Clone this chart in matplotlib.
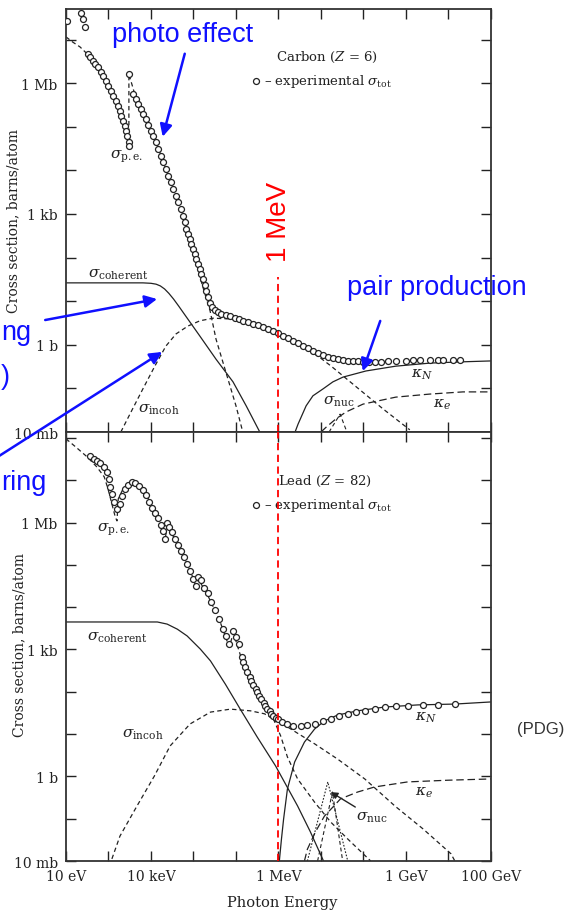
import matplotlib.pyplot as plt
import numpy as np

plt.rcParams['font.family'] = 'DejaVu Serif'
plt.rcParams['mathtext.fontset'] = 'dejavuserif'

# -------------------------------------------------------------------------- #
# DATA : log10(E / eV) and log10(sigma / barn)
# -------------------------------------------------------------------------- #

# Carbon (Z = 6)
carbon_exp_logE = [1.02, 1.35, 1.40, 1.45,
                   1.52, 1.56, 1.64, 1.68, 1.75, 1.82, 1.87, 1.94, 1.99, 2.06, 2.11,
                   2.18, 2.22, 2.27, 2.29, 2.34, 2.39, 2.41, 2.44, 2.48, 2.48,
                   2.48, 2.58, 2.65, 2.69, 2.76, 2.81, 2.88, 2.93, 3.00, 3.05,
                   3.12, 3.16, 3.24, 3.28, 3.35, 3.40, 3.47, 3.52, 3.59, 3.64,
                   3.71, 3.75, 3.80, 3.82, 3.87, 3.92, 3.94, 3.99, 4.04, 4.06,
                   4.11, 4.15, 4.18, 4.22, 4.27, 4.29, 4.34, 4.39, 4.44, 4.51,
                   4.58, 4.65, 4.76, 4.86, 4.98, 5.07, 5.16, 5.28, 5.40, 5.52,
                   5.64, 5.75, 5.87, 5.99, 6.11, 6.22, 6.34, 6.46, 6.58, 6.69,
                   6.81, 6.93, 7.05, 7.16, 7.28, 7.40, 7.52, 7.64, 7.75, 7.87,
                   7.99, 8.13, 8.27, 8.41, 8.58, 8.76, 9.00, 9.16, 9.33, 9.56,
                   9.75, 9.87, 10.11, 10.27]
carbon_exp_logS = [7.43, 7.61, 7.47, 7.29,
                   6.67, 6.60, 6.51, 6.44, 6.37, 6.26, 6.17, 6.05, 5.94, 5.82, 5.71,
                   5.59, 5.48, 5.36, 5.25, 5.13, 5.02, 4.90, 4.79, 4.65, 4.56,
                   6.21, 5.75, 5.64, 5.52, 5.41, 5.29, 5.18, 5.04, 4.90, 4.79,
                   4.65, 4.49, 4.33, 4.19, 4.03, 3.87, 3.73, 3.57, 3.41, 3.28,
                   3.11, 2.95, 2.82, 2.66, 2.54, 2.43, 2.31, 2.20, 2.08, 1.97,
                   1.85, 1.74, 1.62, 1.51, 1.37, 1.23, 1.10, 0.96, 0.87, 0.80,
                   0.75, 0.71, 0.68, 0.66, 0.61, 0.59, 0.55, 0.52, 0.48, 0.45,
                   0.41, 0.36, 0.32, 0.27, 0.20, 0.16, 0.09, 0.04, -0.03, -0.07,
                   -0.14, -0.19, -0.23, -0.28, -0.30, -0.33, -0.35, -0.37, -0.37, -0.37,
                   -0.39, -0.39, -0.39, -0.39, -0.37, -0.37, -0.37, -0.35, -0.35, -0.35,
                   -0.35, -0.35, -0.35, -0.35]

carbon_pe_logE = [1.00, 1.16, 1.33, 1.52, 1.75, 1.99, 2.22, 2.39, 2.48, 2.48, 2.65, 2.88,
                  3.12, 3.35, 3.59, 3.80, 3.99, 4.15, 4.29, 4.39, 4.53, 4.76, 5.00, 5.16]
carbon_pe_logS = [7.06, 6.94, 6.83, 6.65, 6.35, 5.91, 5.45, 5.02, 4.56, 6.21, 5.64, 5.18,
                  4.65, 4.03, 3.41, 2.82, 2.20, 1.56, 1.10, 0.78, 0.13, -0.62, -1.40, -2.00]

carbon_coh_logE = [1.00, 1.87, 2.81, 3.00, 3.12, 3.22, 3.32, 3.42, 3.53, 3.65, 3.78,
                   4.15, 4.53, 4.93, 5.24, 5.56]
carbon_coh_logS = [1.42, 1.42, 1.42, 1.41, 1.39, 1.35, 1.28, 1.18, 1.05, 0.89, 0.71,
                   0.20, -0.33, -0.85, -1.40, -2.00]

carbon_incoh_logE = [2.29, 2.53, 2.81, 3.09, 3.35, 3.59, 3.87, 4.15, 4.46, 4.93, 5.64,
                     6.11, 6.58, 6.93, 7.24, 7.75, 8.46, 9.09]
carbon_incoh_logS = [-2.00, -1.54, -1.01, -0.49, -0.03, 0.25, 0.43, 0.55, 0.61, 0.59, 0.39,
                     0.20, -0.05, -0.26, -0.49, -0.90, -1.47, -1.95]

carbon_kn_logE = [6.39, 6.46, 6.65, 6.81, 7.05, 7.28, 7.52, 8.06, 8.76, 9.56, 10.34, 11.00]
carbon_kn_logS = [-2.00, -1.82, -1.40, -1.17, -1.01, -0.85, -0.74, -0.60, -0.49, -0.42, -0.39, -0.37]

carbon_ke_logE = [7.00, 7.12, 7.35, 7.59, 7.99, 8.76, 9.56, 10.34, 11.00]
carbon_ke_logS = [-2.00, -1.89, -1.70, -1.54, -1.36, -1.20, -1.13, -1.08, -1.08]

carbon_nuc_logE = [7.19, 7.45, 7.61]
carbon_nuc_logS = [-2.00, -1.59, -2.00]

# Lead (Z = 82)
lead_exp_logE = [1.57, 1.66, 1.73, 1.80, 1.90, 1.97, 2.01, 2.04, 2.08, 2.13,
                 2.20, 2.27, 2.32, 2.39, 2.46, 2.56, 2.63, 2.72, 2.82, 2.89,
                 2.96, 3.03, 3.10, 3.17, 3.24, 3.29, 3.33, 3.38, 3.43, 3.50,
                 3.57, 3.64, 3.71, 3.78, 3.85, 3.92, 4.00, 4.07, 4.11, 4.18,
                 4.25, 4.33, 4.42, 4.51, 4.61, 4.70, 4.77, 4.84, 4.92, 4.99,
                 5.06, 5.13, 5.17, 5.22, 5.27, 5.32, 5.36, 5.41, 5.46, 5.50,
                 5.55, 5.60, 5.65, 5.69, 5.74, 5.79, 5.83, 5.88, 5.93, 5.98,
                 6.09, 6.21, 6.35, 6.52, 6.68, 6.85, 7.04, 7.23, 7.42, 7.63,
                 7.82, 8.03, 8.26, 8.50, 8.76, 9.04, 9.40, 9.75, 10.15]
lead_exp_logS = [7.57, 7.50, 7.46, 7.41, 7.31, 7.20, 7.03, 6.84, 6.68, 6.49,
                 6.32, 6.44, 6.63, 6.79, 6.89, 6.96, 6.94, 6.87, 6.77, 6.65,
                 6.49, 6.35, 6.23, 6.11, 5.94, 5.80, 5.61, 5.99, 5.90, 5.78,
                 5.61, 5.47, 5.33, 5.19, 5.02, 4.86, 4.67, 4.50, 4.71, 4.64,
                 4.45, 4.34, 4.12, 3.93, 3.72, 3.48, 3.32, 3.13, 3.44, 3.30,
                 3.13, 2.82, 2.70, 2.59, 2.47, 2.35, 2.26, 2.16, 2.07, 2.00,
                 1.90, 1.83, 1.74, 1.66, 1.59, 1.55, 1.48, 1.43, 1.38, 1.36,
                 1.29, 1.24, 1.19, 1.19, 1.22, 1.24, 1.31, 1.36, 1.43, 1.48,
                 1.52, 1.55, 1.59, 1.64, 1.66, 1.66, 1.69, 1.69, 1.71]

lead_pe_logE = [1.00, 1.26, 1.50, 1.73, 1.90, 1.99, 2.08, 2.16, 2.20, 2.23,
                2.34, 2.51, 2.67, 2.86, 3.03, 3.19, 3.33, 3.38, 3.57, 3.78,
                4.00, 4.07, 4.11, 4.33, 4.61, 4.84, 4.94, 5.13, 5.32, 5.50,
                5.69, 5.88, 6.05, 6.21, 6.45, 6.85, 7.23, 7.63, 8.17]
lead_pe_logS = [7.98, 7.76, 7.55, 7.31, 7.08, 6.79, 6.44, 6.13, 6.04, 6.56,
                6.79, 6.94, 6.91, 6.72, 6.37, 6.04, 5.57, 5.94, 5.59, 5.19,
                4.67, 4.43, 4.67, 4.29, 3.70, 3.06, 3.39, 2.78, 2.33, 1.95,
                1.64, 1.36, 0.96, 0.46, -0.06, -0.61, -1.08, -1.48, -2.00]

lead_coh_logE = [1.00, 2.20, 3.15, 3.38, 3.62, 3.85, 4.16, 4.40, 4.75, 5.10, 5.50,
                 5.93, 6.45, 6.75, 7.06]
lead_coh_logS = [3.65, 3.65, 3.65, 3.60, 3.48, 3.32, 3.01, 2.73, 2.18, 1.59, 0.93,
                 0.25, -0.70, -1.31, -2.00]

lead_incoh_logE = [2.08, 2.27, 2.67, 3.08, 3.45, 3.92, 4.40, 4.87, 5.34, 5.67, 6.21,
                   6.85, 7.39, 8.03, 8.74, 9.40, 10.06, 10.15]
lead_incoh_logS = [-1.95, -1.41, -0.70, 0.01, 0.72, 1.24, 1.52, 1.59, 1.55, 1.48, 1.17,
                   0.77, 0.41, -0.06, -0.70, -1.24, -1.83, -2.00]

lead_kn_logE = [6.02, 6.07, 6.12, 6.21, 6.38, 6.61, 6.85, 7.08, 7.39, 7.86, 8.50,
                9.28, 10.15, 11.00]
lead_kn_logS = [-2.00, -1.48, -1.01, -0.30, 0.34, 0.81, 1.12, 1.31, 1.45, 1.55, 1.64,
                1.69, 1.71, 1.76]

lead_ke_logE = [6.61, 6.68, 6.87, 7.08, 7.46, 7.86, 8.26, 9.04, 9.99, 11.00]
lead_ke_logS = [-2.00, -1.72, -1.31, -0.94, -0.53, -0.37, -0.25, -0.13, -0.09, -0.06]

lead_nuc_logE = [6.68, 7.16, 7.63]
lead_nuc_logS = [-2.00, -0.13, -2.00]
lead_nuc2_logE = [6.92, 7.27, 7.51]
lead_nuc2_logS = [-2.00, -0.37, -2.00]

# axis labels
x_labels = {1: '10 eV', 3: '10 keV', 6: '1 MeV', 9: '1 GeV', 11: '100 GeV'}
y_labels = {-2: '10 mb', 0: '1 b', 3: '1 kb', 6: '1 Mb'}

# -------------------------------------------------------------------------- #
# FONCTIONS
# -------------------------------------------------------------------------- #
ink = '#222222'
dash = (0, (3.5, 2.5))
longdash = (0, (6, 3))


def courbe(ax, logE, logS, **kw):
    kw.setdefault('color', ink)
    kw.setdefault('lw', 0.9)
    ax.plot(10.0 ** np.array(logE), 10.0 ** np.array(logS), **kw)


def points(ax, logE, logS):
    ax.plot(10.0 ** np.array(logE), 10.0 ** np.array(logS), 'o', ls='none',
            ms=4.3, mfc='white', mec=ink, mew=0.9, zorder=3)


def cadre(ax, ymax):
    ax.set_xscale('log')
    ax.set_yscale('log')
    ax.set_xlim(10, 1e11)
    ax.set_ylim(1e-2, ymax)
    xs = list(range(1, 12))
    ax.set_xticks([10.0 ** k for k in xs], [x_labels.get(k, '') for k in xs])
    ys = [k for k in range(-2, 9) if 10.0 ** k <= ymax]
    ax.set_yticks([10.0 ** k for k in ys], [y_labels.get(k, '') for k in ys])
    ax.minorticks_off()
    ax.tick_params(which='both', direction='in', top=True, right=True,
                   length=7.5, width=1, labelsize=10, pad=6, colors=ink)
    for s in ax.spines.values():
        s.set_linewidth(1.3)
        s.set_color('#333333')


def etiquette(ax, logE, logS, txt, size=11):
    ax.text(10.0 ** logE, 10.0 ** logS, txt, fontsize=size, color=ink,
            ha='left', va='center')


# -------------------------------------------------------------------------- #
# FIGURE
# -------------------------------------------------------------------------- #
fig = plt.figure(figsize=(5.65, 9.12), dpi=100)
ax_c = fig.add_axes([0.1168, 0.5252, 0.7522, 0.4638])
ax_p = fig.add_axes([0.1168, 0.0548, 0.7522, 0.4704])

cadre(ax_c, 5.0e7)
cadre(ax_p, 1.38e8)
ax_c.tick_params(labelbottom=False)

# Carbon
courbe(ax_c, carbon_pe_logE, carbon_pe_logS, ls=dash)
courbe(ax_c, carbon_coh_logE, carbon_coh_logS)
courbe(ax_c, carbon_incoh_logE, carbon_incoh_logS, ls=dash)
courbe(ax_c, carbon_kn_logE, carbon_kn_logS)
courbe(ax_c, carbon_ke_logE, carbon_ke_logS, ls=longdash)
courbe(ax_c, carbon_nuc_logE, carbon_nuc_logS, ls=dash, lw=0.8)
points(ax_c, carbon_exp_logE, carbon_exp_logS)

etiquette(ax_c, 2.04, 4.33, r'$\sigma_{\rm p.e.}$')
etiquette(ax_c, 1.52, 1.62, r'$\sigma_{\rm coherent}$')
etiquette(ax_c, 2.69, -1.47, r'$\sigma_{\rm incoh}$')
etiquette(ax_c, 7.05, -1.29, r'$\sigma_{\rm nuc}$')
etiquette(ax_c, 9.12, -0.67, r'$\kappa_N$')
etiquette(ax_c, 9.64, -1.36, r'$\kappa_e$')

ax_c.text(0.494, 0.889, r'Carbon ($Z$ = 6)', transform=ax_c.transAxes,
          fontsize=9.5, color=ink, va='center')
ax_c.plot([0.447], [0.830], 'o', transform=ax_c.transAxes, ms=4.3,
          mfc='white', mec=ink, mew=0.9)
ax_c.text(0.466, 0.832, r'– experimental $\sigma_{\rm tot}$', transform=ax_c.transAxes,
          fontsize=9.5, color=ink, va='center')

# Lead
courbe(ax_p, lead_pe_logE, lead_pe_logS, ls=dash)
courbe(ax_p, lead_coh_logE, lead_coh_logS)
courbe(ax_p, lead_incoh_logE, lead_incoh_logS, ls=dash)
courbe(ax_p, lead_kn_logE, lead_kn_logS)
courbe(ax_p, lead_ke_logE, lead_ke_logS, ls=longdash)
courbe(ax_p, lead_nuc_logE, lead_nuc_logS, ls=(0, (1.5, 1.5)), lw=0.8)
courbe(ax_p, lead_nuc2_logE, lead_nuc2_logS, ls=dash, lw=0.8)
points(ax_p, lead_exp_logE, lead_exp_logS)

etiquette(ax_p, 1.73, 5.85, r'$\sigma_{\rm p.e.}$')
etiquette(ax_p, 1.50, 3.30, r'$\sigma_{\rm coherent}$')
etiquette(ax_p, 2.32, 1.00, r'$\sigma_{\rm incoh}$')
etiquette(ax_p, 9.21, 1.40, r'$\kappa_N$')
etiquette(ax_p, 9.21, -0.37, r'$\kappa_e$')
ax_p.annotate(r'$\sigma_{\rm nuc}$', xy=(10 ** 7.23, 10 ** -0.37),
              xytext=(10 ** 7.82, 10 ** -0.96), fontsize=11, color=ink,
              va='center', ha='left',
              arrowprops=dict(arrowstyle='-|>', color=ink, lw=1.0,
                              mutation_scale=10, shrinkA=0, shrinkB=0))

ax_p.text(0.498, 0.886, r'Lead ($Z$ = 82)', transform=ax_p.transAxes,
          fontsize=9.5, color=ink, va='center')
ax_p.plot([0.446], [0.830], 'o', transform=ax_p.transAxes, ms=4.3,
          mfc='white', mec=ink, mew=0.9)
ax_p.text(0.465, 0.832, r'– experimental $\sigma_{\rm tot}$', transform=ax_p.transAxes,
          fontsize=9.5, color=ink, va='center')

# 1 MeV marker across both panels
ax_p.axvline(1e6, color='red', lw=1.3, ls=(0, (4, 2.5)), zorder=4)
ax_c.axvline(1e6, ymin=0, ymax=0.366, color='red', lw=1.3, ls=(0, (4, 2.5)), zorder=4)
fig.text(0.494, 0.757, '1 MeV', rotation=90, color='red', fontsize=20,
         family='Liberation Sans', ha='center', va='center')

# axis titles
fig.text(0.023, 0.758, 'Cross section, barns/atom', rotation=90, fontsize=10,
         color=ink, ha='center', va='center')
fig.text(0.034, 0.293, 'Cross section, barns/atom', rotation=90, fontsize=10,
         color=ink, ha='center', va='center')
fig.text(0.499, 0.010, 'Photon Energy', fontsize=10.5, color=ink,
         ha='center', va='center')
fig.text(0.915, 0.200, '(PDG)', fontsize=12, color='#333333',
         family='Liberation Sans', ha='left', va='center')

# blue annotations
bleu = '#1010ff'
fleche = dict(arrowstyle='-|>', color=bleu, lw=1.8, mutation_scale=18,
              shrinkA=0, shrinkB=0)
fig.text(0.198, 0.962, 'photo effect', fontsize=19.5, color=bleu,
         family='Liberation Sans', ha='left', va='center')
fig.text(0.614, 0.684, 'pair production', fontsize=19.5, color=bleu,
         family='Liberation Sans', ha='left', va='center')
fig.text(0.002, 0.635, 'ng', fontsize=19.5, color=bleu,
         family='Liberation Sans', ha='left', va='center')
fig.text(0.002, 0.587, ')', fontsize=19.5, color=bleu,
         family='Liberation Sans', ha='left', va='center')
fig.text(0.002, 0.470, 'ring', fontsize=19.5, color=bleu,
         family='Liberation Sans', ha='left', va='center')

for tail, head in [((0.327, 0.940), (0.288, 0.849)),
                   ((0.673, 0.647), (0.642, 0.592)),
                   ((0.080, 0.648), (0.278, 0.671)),
                   ((-0.009, 0.496), (0.287, 0.613))]:
    ax_c.annotate('', xy=head, xycoords='figure fraction', xytext=tail,
                  textcoords='figure fraction', arrowprops=fleche)

fig.savefig('out.png', dpi=100)
